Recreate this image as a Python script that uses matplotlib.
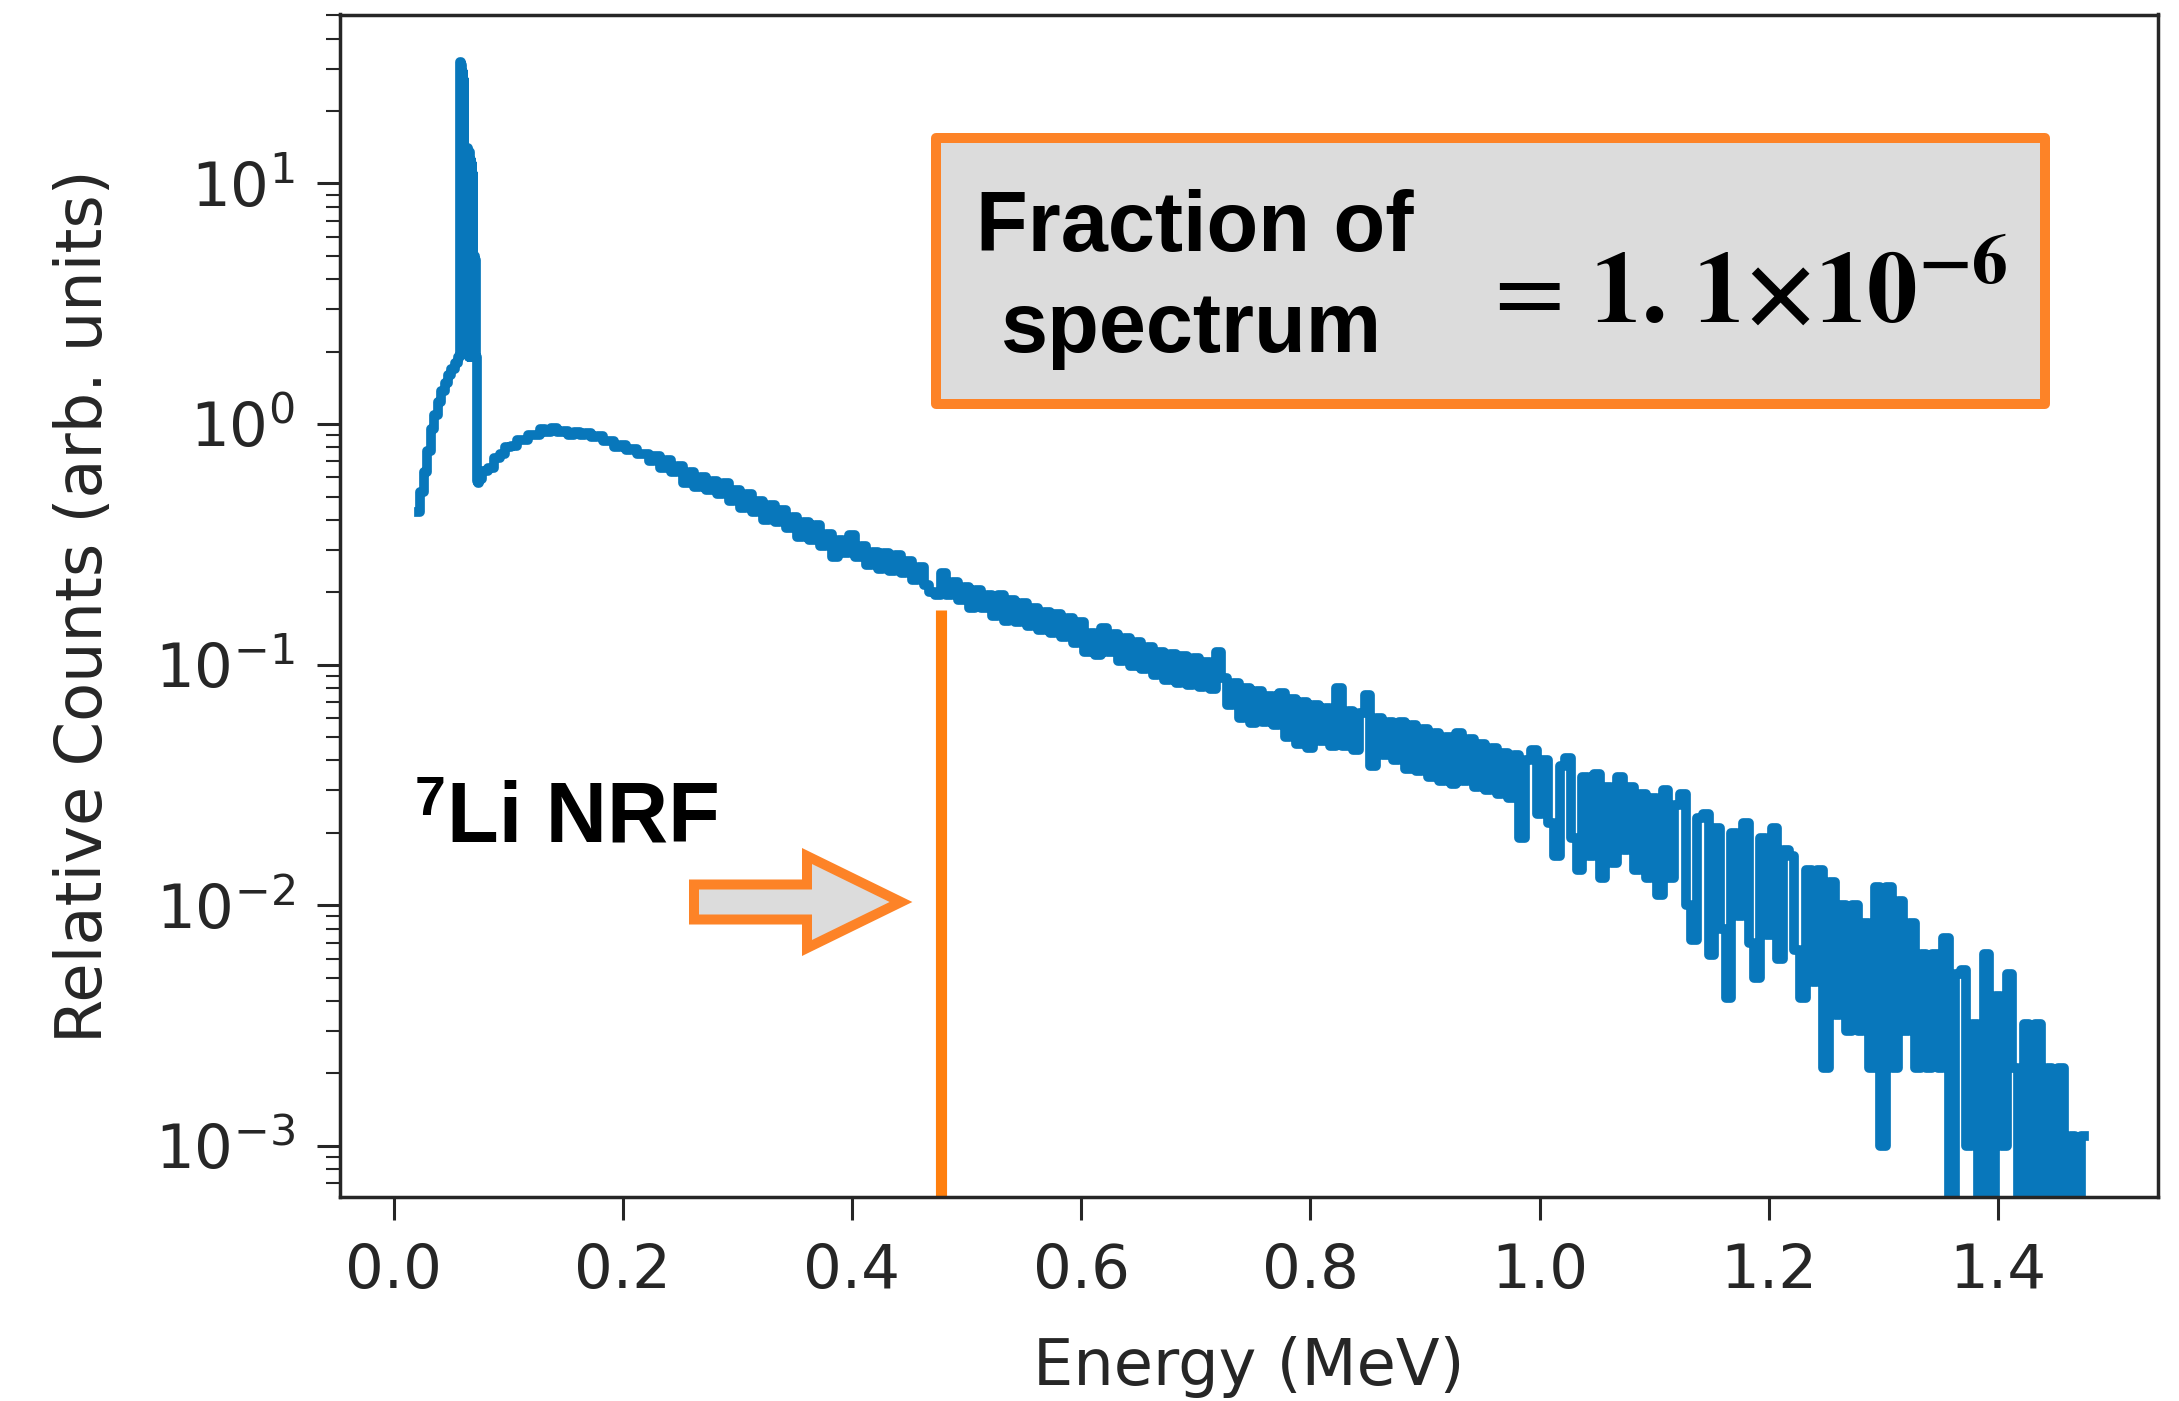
import numpy as np
import matplotlib.pyplot as plt
from matplotlib.patches import Polygon, Rectangle

W, H = 2179, 1401
DPI = 100

# --- spectrum ----------------------------------------------------------
# rising edge below the x-ray spike
head_energy = [0.022, 0.025, 0.028, 0.031, 0.034, 0.037, 0.040, 0.043,
               0.046, 0.049, 0.052, 0.055]
head_counts = [0.433, 0.52, 0.63, 0.77, 0.95, 1.09, 1.24, 1.37,
               1.48, 1.60, 1.69, 1.80]

# x-ray spike (fine bins)
spike_energy = [0.0580, 0.0585, 0.0590, 0.0595, 0.0600, 0.0605, 0.0610,
                0.0615, 0.0620, 0.0625, 0.0630, 0.0635, 0.0640, 0.0645,
                0.0650, 0.0655, 0.0660, 0.0665, 0.0670, 0.0675, 0.0680,
                0.0685, 0.0690, 0.0695, 0.0700, 0.0705, 0.0710, 0.0715,
                0.0720, 0.0730, 0.0740]
spike_counts = [1.90, 32, 2.0, 31, 2.0, 29, 2.0,
                27, 2.0, 14, 2.0, 13.5, 1.95, 14,
                1.95, 13, 1.9, 13.5, 1.9, 12.5, 1.9,
                12, 1.9, 11, 1.9, 5.0, 1.9, 4.8,
                1.9, 0.58, 0.57]

# continuum, 5 keV bins from 0.075 to 1.475 MeV
tail_energy = np.round(np.arange(0.075, 1.4751, 0.005), 3)
tail_counts = [
    0.59, 0.64, 0.66, 0.72, 0.75, 0.80, 0.81, 0.86, 0.86, 0.90,
    0.90, 0.95, 0.93, 0.96, 0.93, 0.94, 0.90, 0.93, 0.90, 0.92,
    0.88, 0.89, 0.85, 0.85, 0.80, 0.82, 0.78, 0.79, 0.75, 0.75,
    0.70, 0.74, 0.66, 0.71, 0.63, 0.67, 0.57, 0.63, 0.55, 0.60,
    0.53, 0.58, 0.51, 0.57, 0.48, 0.53, 0.45, 0.51, 0.43, 0.48,
    0.40, 0.46, 0.39, 0.44, 0.37, 0.41, 0.34, 0.39, 0.33, 0.38,
    0.31, 0.35, 0.28, 0.33, 0.29, 0.345, 0.28, 0.31, 0.26, 0.295,
    0.25, 0.29, 0.245, 0.285, 0.24, 0.27, 0.225, 0.255, 0.215, 0.20,
    0.195, 0.24, 0.195, 0.22, 0.185, 0.21, 0.172, 0.205, 0.172, 0.195,
    0.16, 0.195, 0.152, 0.185, 0.15, 0.18, 0.145, 0.172, 0.14, 0.166,
    0.135, 0.162, 0.13, 0.156, 0.123, 0.15, 0.113, 0.136, 0.11, 0.142,
    0.113, 0.134, 0.104, 0.129, 0.099, 0.124, 0.096, 0.118, 0.091, 0.113,
    0.086, 0.111, 0.084, 0.109, 0.082, 0.107, 0.081, 0.103, 0.079, 0.113,
    0.088, 0.068, 0.084, 0.060, 0.080, 0.057, 0.078, 0.058, 0.074, 0.056,
    0.076, 0.050, 0.072, 0.047, 0.070, 0.045, 0.068, 0.048, 0.066, 0.046,
    0.080, 0.046, 0.064, 0.044, 0.063, 0.075, 0.038, 0.060, 0.042, 0.058,
    0.040, 0.058, 0.037, 0.056, 0.036, 0.054, 0.034, 0.052, 0.033, 0.050,
    0.032, 0.052, 0.033, 0.049, 0.031, 0.047, 0.030, 0.045, 0.029, 0.043,
    0.028, 0.042, 0.019, 0.040, 0.044, 0.024, 0.040, 0.022, 0.016, 0.038,
    0.041, 0.019, 0.014, 0.034, 0.016, 0.035, 0.013, 0.031, 0.015, 0.034,
    0.017, 0.031, 0.014, 0.029, 0.013, 0.028, 0.011, 0.030, 0.013, 0.026,
    0.029, 0.010, 0.0072, 0.023, 0.024, 0.0062, 0.021, 0.008, 0.0041, 0.020,
    0.009, 0.022, 0.007, 0.005, 0.019, 0.0075, 0.021, 0.006, 0.017, 0.016,
    0.0065, 0.0041, 0.014, 0.0048, 0.014, 0.0021, 0.0125, 0.0035, 0.0100, 0.0030,
    0.0100, 0.0030, 0.0084, 0.0021, 0.0119, 0.0010, 0.0119, 0.0021, 0.0104, 0.0030,
    0.0084, 0.0021, 0.0063, 0.0021, 0.0063, 0.0021, 0.0073, 0.0, 0.0052, 0.0054,
    0.0010, 0.0032, 0.0, 0.0063, 0.0, 0.0042, 0.0010, 0.0052, 0.0021, 0.0,
    0.0032, 0.0, 0.0032, 0.0, 0.0021, 0.0, 0.0021, 0.0, 0.0011, 0.0,
    0.0011,
]

# 7Li NRF line
li7_energy = 0.4776
li7_peak = 0.168

x_ticks = [0.0, 0.2, 0.4, 0.6, 0.8, 1.0, 1.2, 1.4]

BLUE = '#0877bb'
ORANGE = '#ff7f0e'
EDGE = '#fd8327'
GREY = '#dcdcdc'
INK = '#262626'


def fx(x):
    return x / W


def fy(y):
    return 1 - y / H


energy = np.concatenate([head_energy, spike_energy, tail_energy])
counts = np.concatenate([head_counts, spike_counts, tail_counts])

fig = plt.figure(figsize=(W / DPI, H / DPI), dpi=DPI)
ax = fig.add_axes([fx(340), fy(1197), fx(2158) - fx(340), fy(14.5) - fy(1197)])

ax.plot(energy, counts, color=BLUE, linewidth=7.0, drawstyle='steps-mid')
ax.vlines(li7_energy, 1e-5, li7_peak, colors=ORANGE, linewidth=8)

ax.set_yscale('log', nonpositive='clip')
ax.set_xlim(-0.0467, 1.5397)
ax.set_ylim(6.13e-4, 50.4)
ax.set_xticks(x_ticks)
ax.set_xticklabels([f'{t:.1f}' for t in x_ticks])

for s in ax.spines.values():
    s.set_linewidth(2.5)
    s.set_color(INK)
ax.tick_params(which='major', length=16.5, width=2.2, pad=16,
               labelsize=44, color=INK, labelcolor=INK)
ax.tick_params(which='minor', length=10, width=1.5, color=INK)

ax.set_xlabel('Energy (MeV)', fontsize=46, color=INK)
ax.set_ylabel('Relative Counts (arb. units)', fontsize=46, color=INK)
ax.xaxis.set_label_coords(0.5, -0.1175)
ax.yaxis.set_label_coords(-0.124, 0.5)

# annotation box
box = Rectangle((fx(936), fy(404)), fx(2045) - fx(936), fy(138) - fy(404),
                transform=fig.transFigure, facecolor=GREY, edgecolor=EDGE,
                linewidth=7.2, joinstyle='round')
fig.add_artist(box)
fig.text(fx(1195), fy(251), 'Fraction of', ha='center', va='baseline',
         fontsize=61, fontweight='bold', family='Liberation Sans')
fig.text(fx(1191), fy(352), 'spectrum', ha='center', va='baseline',
         fontsize=61, fontweight='bold', family='Liberation Sans')
fig.text(fx(1480), fy(322), r'$=\,\mathbf{1.\,1{\times}10^{-6}}$', ha='left',
         va='baseline', fontsize=73, math_fontfamily='stix')

# label and arrow
fig.text(fx(415), fy(815), '7', ha='left', va='baseline', fontsize=40,
         fontweight='bold', family='Liberation Sans')
fig.text(fx(447), fy(841), 'Li NRF', ha='left', va='baseline', fontsize=61,
         fontweight='bold', family='Liberation Sans')
arrow_px = [(694, 884.5), (807, 884.5), (807, 856), (901, 902),
            (807, 948), (807, 919.5), (694, 919.5)]
arrow = Polygon([(fx(x), fy(y)) for x, y in arrow_px], closed=True,
                transform=fig.transFigure, facecolor=GREY, edgecolor=EDGE,
                linewidth=7.2, joinstyle='miter')
fig.add_artist(arrow)

fig.savefig('out.png', dpi=DPI)
